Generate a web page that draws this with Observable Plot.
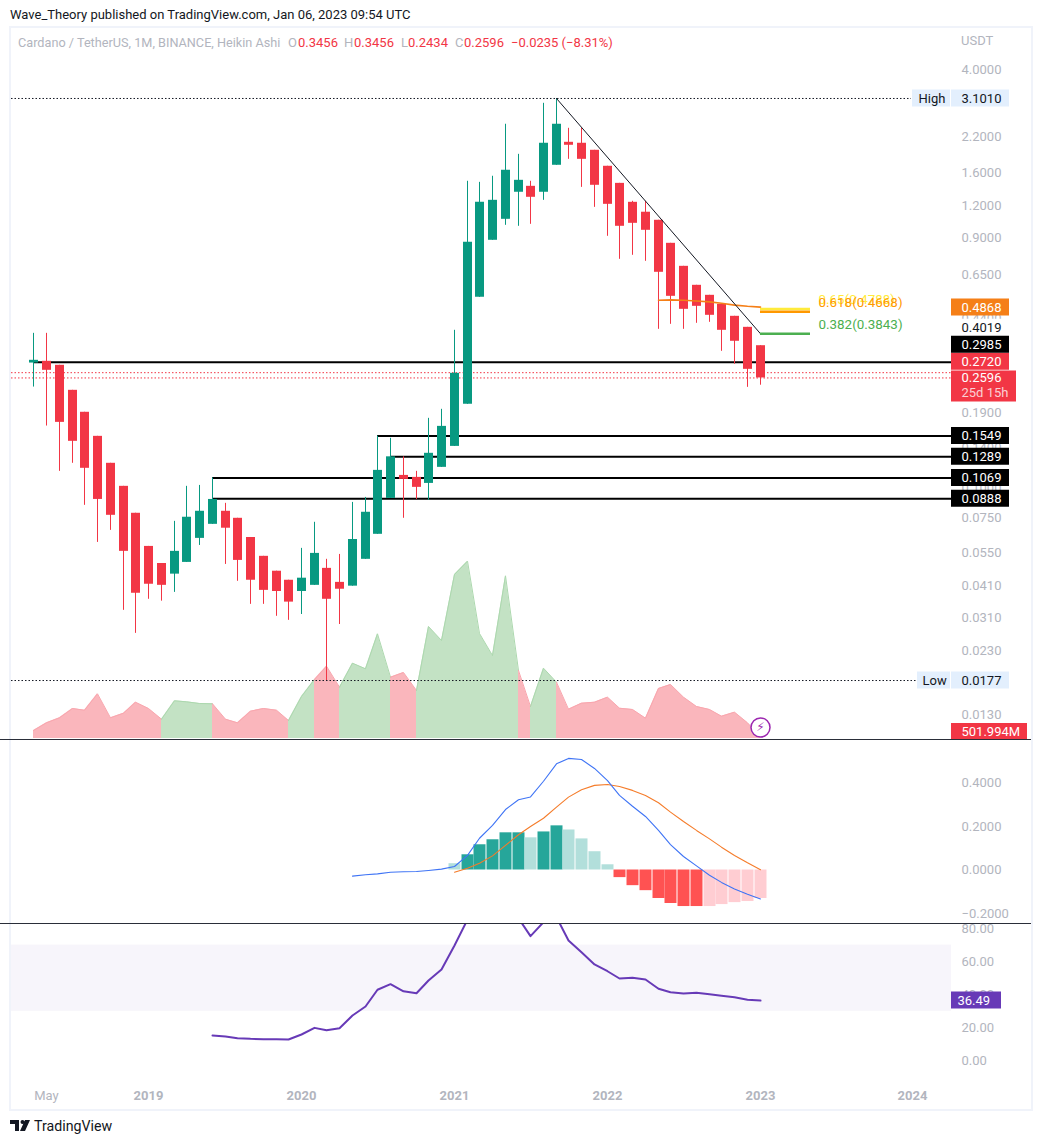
<!DOCTYPE html>
<html><head><meta charset="utf-8">
<style>
html,body{margin:0;padding:0;background:#fff;overflow:hidden;width:1041px;height:1143px}
body{position:relative;font-family:Roboto,"Liberation Sans",sans-serif}
svg{position:absolute;left:0}
.t{position:absolute;white-space:pre;line-height:16px;font-size:13px}
</style>
<script src="https://cdn.jsdelivr.net/npm/d3@7"></script>
<script src="https://cdn.jsdelivr.net/npm/@observablehq/plot@0.6"></script>
</head><body>
<div style="position:absolute;left:9px;top:26px;width:1020px;height:1081px;border:2px solid #f0f3fa"></div>
<div class="t" style="left:10px;top:7px;color:#131722">Wave_Theory published on TradingView.com, Jan 06, 2023 09:54 UTC</div>
<div class="t" style="left:18px;top:35px;font-size:12.7px;color:#b2b5be">Cardano / TetherUS, 1M, BINANCE, Heikin Ashi</div>
<div class="t" style="left:288px;top:35px;color:#b2b5be">O</div>
<div class="t" style="left:298px;top:35px;color:#f23645">0.3456</div>
<div class="t" style="left:344px;top:35px;color:#b2b5be">H</div>
<div class="t" style="left:354px;top:35px;color:#f23645">0.3456</div>
<div class="t" style="left:401px;top:35px;color:#b2b5be">L</div>
<div class="t" style="left:408px;top:35px;color:#f23645">0.2434</div>
<div class="t" style="left:455px;top:35px;color:#b2b5be">C</div>
<div class="t" style="left:464px;top:35px;color:#f23645">0.2596</div>
<div class="t" style="left:511px;top:35px;color:#f23645">−0.0235 (−8.31%)</div>
<div class="t" style="left:961px;top:33px;color:#b2b5be">USDT</div>
<svg style="left:10px;top:1120px" width="20" height="12" viewBox="0 0 20 12"><path d="M0 0h9v11H5V4H0z M12.5 0a2 2 0 1 1 0 4a2 2 0 1 1 0-4z M15 0h5l-5 11h-5z" fill="#131722"/></svg>
<div class="t" style="left:34px;top:1118px;font-size:14.2px;color:#131722">TradingView</div>
<script>
// ADA/USDT monthly Heikin Ashi bars, April 2018 to January 2023
const open_ = [0.2963,0.3009,0.2904,0.2326,0.1914,0.1546,0.1217,0.0992,0.0781,0.0582,0.0500,0.0455,0.0505,0.0625,0.0708,0.0795,0.0747,0.0630,0.0533,0.0467,0.0431,0.0390,0.0412,0.0479,0.0423,0.0409,0.0519,0.0648,0.0891,0.1093,0.1074,0.1018,0.1174,0.1414,0.2054,0.5310,0.8808,1.061,1.349,1.422,1.349,1.714,2.102,2.084,1.958,1.699,1.460,1.234,1.130,1.052,0.8575,0.6991,0.5907,0.5405,0.4990,0.4486,0.4068,0.3456];
const close_ = [0.3036,0.2778,0.1750,0.1479,0.1164,0.0883,0.0767,0.0557,0.0384,0.0416,0.0412,0.0557,0.0754,0.0795,0.0883,0.0684,0.0514,0.0431,0.0394,0.0390,0.0355,0.0439,0.0547,0.0364,0.0398,0.0619,0.0788,0.1143,0.1289,0.1055,0.0983,0.1330,0.1689,0.2705,0.8652,1.234,1.256,1.640,1.500,1.290,2.084,2.467,2.047,1.807,1.435,1.212,0.9973,1.024,0.9625,0.6630,0.5357,0.4773,0.4902,0.4526,0.3962,0.3594,0.2802,0.2596];
const high_ = [0.3857,0.3857,0.2904,0.2326,0.1914,0.1546,0.1217,0.0992,0.0781,0.0582,0.0500,0.0727,0.0992,0.1000,0.1069,0.0853,0.0747,0.0630,0.0533,0.0467,0.0431,0.0572,0.0721,0.0519,0.0542,0.0860,0.0899,0.1549,0.1519,0.1289,0.1133,0.1814,0.1965,0.3962,1.487,1.473,1.555,2.467,1.889,1.487,2.971,3.101,2.380,2.380,1.958,1.699,1.460,1.245,1.245,1.052,0.8575,0.6991,0.5907,0.5405,0.4990,0.4486,0.4068,0.3456];
const low_ = [0.2394,0.1694,0.1133,0.1217,0.0838,0.0603,0.0671,0.0330,0.0269,0.0364,0.0358,0.0387,0.0505,0.0587,0.0708,0.0496,0.0427,0.0348,0.0348,0.0313,0.0302,0.0318,0.0412,0.0177,0.0291,0.0409,0.0519,0.0648,0.0891,0.0747,0.0883,0.0876,0.1174,0.1414,0.2054,0.5310,0.8808,1.006,0.9973,1.015,1.256,1.714,1.807,1.409,1.180,0.9125,0.7440,0.7709,0.7309,0.3997,0.4178,0.3997,0.4216,0.4253,0.3288,0.2930,0.2388,0.2434];
// Volume in millions, and the stretches of bars it is coloured by
const volume = [2680,5260,6930,10050,9480,14970,6930,8480,12160,10050,6470,12630,12290,11730,11620,6470,5260,9150,10050,9480,6030,14070,19770,24220,17190,25230,23350,35070,20540,22110,16080,37520,32830,54940,59400,35180,27800,54500,22780,10720,23550,18860,9820,11830,12160,13840,10150,9720,6800,16750,18090,13840,10720,9720,7470,8810,5260,502];
const volumeRuns = [[0,10,"down"],[10,14,"up"],[14,20,"down"],[20,22,"up"],[22,24,"down"],[24,28,"up"],[28,30,"down"],[30,38,"up"],[38,39,"down"],[39,41,"up"],[41,57,"down"]];
// MACD panel
const macdStart = 25;
const macdLine = [-0.028,-0.022,-0.018,-0.010,-0.008,-0.007,-0.002,0.004,0.016,0.067,0.146,0.205,0.278,0.323,0.336,0.408,0.488,0.513,0.508,0.467,0.411,0.343,0.293,0.246,0.182,0.117,0.062,0.019,-0.024,-0.057,-0.087,-0.111,-0.133];
const signalStart = 33;
const signalLine = [-0.010,0.008,0.031,0.065,0.113,0.162,0.200,0.238,0.289,0.335,0.369,0.389,0.393,0.384,0.366,0.343,0.309,0.266,0.223,0.182,0.143,0.105,0.067,0.033,0.001];
const histValues = [0.029,0.070,0.116,0.139,0.171,0.171,0.148,0.175,0.203,0.184,0.143,0.084,0.024,-0.035,-0.072,-0.095,-0.131,-0.154,-0.168,-0.168,-0.168,-0.159,-0.150,-0.145,-0.131];
const histShades = ["pale","full","full","full","full","full","pale","full","full","pale","pale","pale","pale","full","full","full","full","full","full","full","pale","pale","pale","pale","pale"];
// RSI panel
const rsiStart = 14;
const rsiLine = [15.4,14.8,13.8,13.4,13.2,13.1,13.0,16.0,20.0,18.6,19.8,27.5,32.9,43.0,46.4,42.1,40.9,48.6,55.3,69.7,85.4,91,87,89,86.2,75.4,83.8,86.8,72.8,65.7,58.3,54.2,49.8,50.2,49.2,43.6,41.5,40.8,41.2,40.3,39.4,38.5,37.0,36.49];
// Drawn price levels
const supportLevels = [[0.2985,0],[0.1549,27],[0.1289,28],[0.1069,14],[0.0888,14]];
const trendValues = [3.101,0.3843];
const trendBars = [41,57];
const emaStart = 49;
const emaLine = [0.5171,0.519,0.5171,0.5140,0.5100,0.5034,0.4955,0.4902,0.4868];
const fibLevels = [[0.4788,"#ffeb3b","0.65(0.4788)"],[0.4668,"#ff9800","0.618(0.4668)"],[0.3843,"#4caf50","0.382(0.3843)"]];
// Axes
const priceTicks = [4,2.2,1.6,1.2,0.9,0.65,0.44,0.19,0.14,0.098,0.075,0.055,0.041,0.031,0.023,0.013];
const macdTicks = [0.4,0.2,0,-0.2];
const rsiTicks = [80,60,40,20,0];
const yearBars = [9,21,33,45,57,69];
const yearNames = ["2019","2020","2021","2022","2023","2024"];

const font = "Roboto, 'Liberation Sans', sans-serif";
const redC = "#f23645", greenC = "#089981", gray = "#b2b5be", fs = 13;
const chartStart = -1.77, chartEnd = 72.03;
const bars = open_.map((o,i)=>({i,open:o,close:close_[i],high:high_[i],low:low_[i],color:close_[i]>=o?greenC:redC}));

function panel(top,height,y,marks){
  const svg = Plot.plot({
    width:1041,height,marginLeft:0,marginRight:83,marginTop:0,marginBottom:top===923?22:0,
    style:{background:"transparent",fontFamily:font,fontSize:fs+"px",overflow:"visible"},
    x:{domain:[-2.63,79.10],range:[0,1041],round:true,axis:null},
    y:{axis:null,...y},
    marks
  });
  svg.style.position="absolute"; svg.style.top=top+"px"; svg.style.left="0"; svg.style.maxWidth="none";
  document.body.appendChild(svg);
}
// box with a value in the right gutter; left/right are gutter edges
function tag(value,label,bg,fg,{dy=0,left=951,right=1009,h=17,tx=961}={}){
  return [
    Plot.ruleY([value],{stroke:bg,strokeWidth:h,dy:dy-0.5,insetLeft:left,insetRight:958-right}),
    Plot.text([value],{y:d=>d,text:()=>label,frameAnchor:"right",dx:tx-958,dy:dy,textAnchor:"start",fill:fg,fontSize:fs})
  ];
}
const yAxis=(ticks,fmt)=>Plot.text(ticks,{y:d=>d,text:fmt,frameAnchor:"right",dx:3,textAnchor:"start",fill:gray,fontSize:fs});

// Volume
const volRows = volumeRuns.flatMap(([a,b,dir],k)=>d3.range(a,b+1).map(i=>({i,v:volume[i],k,dir})));
panel(27,712,{type:"linear",domain:[0,59400],range:[711,533.7]},[
  Plot.areaY(volRows,{x:"i",y1:0,y2:"v",z:"k",fill:d=>d.dir==="up"?"#c3e2c4":"#fab6bc",stroke:"none"}),
  Plot.lineY(volRows,{x:"i",y:"v",z:"k",stroke:d=>d.dir==="up"?"#acd8ae":"#f9a6ae",strokeWidth:1}),
  Plot.dot([3685],{x:()=>57,y:d=>d,r:9.5,fill:"#fff",stroke:"#9c27b0",strokeWidth:1.5}),
  Plot.text([3685],{x:()=>57,y:d=>d,text:()=>"⚡",fill:"#9c27b0",fontSize:12,fontFamily:"DejaVu Sans"}),
  ...tag(502,"501.994M",redC,"#fff",{dy:-5.5,right:1027,h:16})
]);

// Price
panel(27,712,{type:"log",domain:[4,0.013],range:[42.3,687.8]},[
  yAxis(priceTicks,d=>d===0.098?"0.1000":d.toFixed(4)),
  Plot.ruleY([3.101],{x1:chartStart,x2:68.9,stroke:"#131722",strokeDasharray:"1.5 2"}),
  Plot.ruleY([0.0177],{x1:chartStart,x2:69.3,stroke:"#131722",strokeDasharray:"1.5 2"}),
  Plot.ruleY([0.2720,0.2596],{x1:chartStart,x2:chartEnd,stroke:redC,strokeDasharray:"1.5 2"}),
  Plot.ruleY(supportLevels,{y:d=>d[0],x1:d=>d[1],x2:chartEnd,stroke:"#000",strokeWidth:2}),
  Plot.ruleX(bars,{x:"i",y1:"low",y2:"high",stroke:"color",strokeWidth:1}),
  Plot.ruleX(bars,{x:"i",y1:"open",y2:"close",stroke:"color",strokeWidth:9}),
  Plot.line(emaLine.map((v,k)=>({i:emaStart+k,v})),{x:"i",y:"v",stroke:"#f57f17",strokeWidth:1.6,curve:"linear"}),
  Plot.line(trendValues.map((v,k)=>({i:trendBars[k],v})),{x:"i",y:"v",stroke:"#131722",strokeWidth:1}),
  Plot.ruleY(fibLevels,{y:d=>d[0],x1:57,x2:61,stroke:d=>d[1],strokeWidth:2.5}),
  Plot.text(fibLevels,{y:d=>d[0],x:()=>61.62,text:d=>d[2],fill:d=>d[1],textAnchor:"start",dy:-9,fontSize:13.4}),
  ...tag(3.101,"High","#e3effd","#131722",{left:912,right:950,tx:918}),
  ...tag(3.101,"3.1010","#e3effd","#131722"),
  ...tag(0.0177,"Low","#e3effd","#131722",{left:917,right:950,tx:922}),
  ...tag(0.0177,"0.0177","#e3effd","#131722"),
  ...tag(0.4019,"0.4019","#fff","#131722",{dy:-1}),
  ...tag(0.4868,"0.4868","#f57f17","#fff",{dy:0.5}),
  ...tag(0.2720,"0.2720",redC,"#fff",{dy:-11}),
  ...tag(0.2985,"0.2985","#000","#fff",{dy:-17.5}),
  ...tag(0.1549,"0.1549","#000","#fff"),
  ...tag(0.1289,"0.1289","#000","#fff"),
  ...tag(0.1069,"0.1069","#000","#fff"),
  ...tag(0.0888,"0.0888","#000","#fff"),
  Plot.ruleY([0.2596],{stroke:redC,strokeWidth:31,dy:8,insetLeft:951,insetRight:958-1016}),
  Plot.text([0.2596],{y:d=>d,text:()=>"0.2596",frameAnchor:"right",dx:3,textAnchor:"start",fill:"#fff",fontSize:fs}),
  Plot.text([0.2596],{y:d=>d,text:()=>"25d 15h",frameAnchor:"right",dx:3,dy:14.5,textAnchor:"start",fill:"#fbd0d4",fontSize:fs})
]);

// MACD
const histColor={"full+":"#26a69a","pale+":"#b2dfdb","full-":"#ff5252","pale-":"#ffcdd2"};
const histRows=histValues.map((v,k)=>({i:signalStart+k,v,color:histColor[histShades[k]+(v>=0?"+":"-")]}));
panel(739,184,{domain:[0.4,-0.2],range:[43.5,174]},[
  yAxis(macdTicks,d=>(d<0?"−":"")+Math.abs(d).toFixed(4)),
  Plot.ruleX(histRows,{x:"i",y1:0,y2:"v",stroke:"color",strokeWidth:12}),
  Plot.line(signalLine.map((v,k)=>({i:signalStart+k,v})),{x:"i",y:"v",stroke:"#f57c2a",strokeWidth:1.1}),
  Plot.line(macdLine.map((v,k)=>({i:macdStart+k,v})),{x:"i",y:"v",stroke:"#3f74f5",strokeWidth:1.1}),
  Plot.ruleY([0.4],{stroke:"#2a2e39",strokeWidth:1,dy:-43.5,insetRight:-73})
]);

// RSI
panel(923,185,{domain:[80,0],range:[5,137.5]},[
  yAxis(rsiTicks,d=>d.toFixed(2)),
  Plot.rectY([0],{x1:chartStart,x2:chartEnd,y1:30,y2:70,fill:"#7e57c2",fillOpacity:0.06}),
  Plot.line(rsiLine.map((v,k)=>({i:rsiStart+k,v})),{x:"i",y:"v",stroke:"#673ab7",strokeWidth:2,clip:"frame"}),
  Plot.ruleY([80],{stroke:"#2a2e39",strokeWidth:1,dy:-5,insetRight:-73}),
  ...tag(36.49,"36.49","#673ab7","#fff",{right:1001,tx:957}),
  Plot.axisX(yearBars,{anchor:"bottom",tickSize:0,tickPadding:4,tickFormat:(d,k)=>yearNames[k],label:null,fill:gray,fontWeight:"bold",fontSize:fs}),
  Plot.axisX([1],{anchor:"bottom",tickSize:0,tickPadding:4,tickFormat:()=>"May",label:null,fill:gray,fontSize:fs})
]);
</script>
</body></html>
